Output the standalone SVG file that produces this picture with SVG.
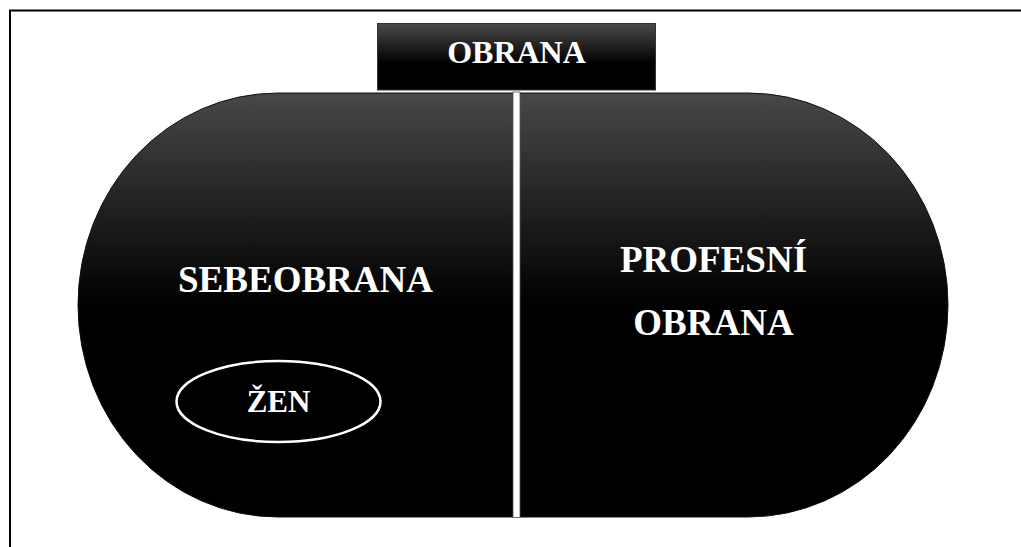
<svg xmlns="http://www.w3.org/2000/svg" width="1021" height="547" viewBox="0 0 1021 547">
<defs>
<linearGradient id="gBig" x1="0" y1="0" x2="0" y2="1">
<stop offset="0" stop-color="#484848"/>
<stop offset="0.5" stop-color="#000"/>
<stop offset="1" stop-color="#000"/>
</linearGradient>
<linearGradient id="gBox" x1="0" y1="0" x2="0" y2="1">
<stop offset="0" stop-color="#4a4a4a"/>
<stop offset="0.6" stop-color="#000"/>
<stop offset="1" stop-color="#000"/>
</linearGradient>
</defs>
<style>
.t{font-family:"Liberation Serif","Times New Roman",serif;font-weight:bold;fill:#fff;text-anchor:middle}
</style>
<rect width="1021" height="547" fill="#fff"/>
<path d="M10,560 V10.5 H1030" fill="none" stroke="#000" stroke-width="2"/>
<g id="node-main">
<path d="M278,93 H748 A200,212 0 0 1 748,517 H278 A200,212 0 0 1 278,93 Z" fill="url(#gBig)" stroke="#111" stroke-width="1"/>
<text class="t" x="305.5" y="292" font-size="37">SEBEOBRANA</text>
<text class="t" x="713.5" y="272" font-size="37">PROFESNÍ</text>
<text class="t" x="713.5" y="335" font-size="37">OBRANA</text>
</g>
<g id="connectors">
<rect x="513" y="92" width="7" height="425.5" fill="#fff" stroke="#555" stroke-width="0.8"/>
</g>
<g id="node-obrana">
<rect x="377.5" y="23.5" width="278" height="66.5" fill="url(#gBox)" stroke="#333" stroke-width="1"/>
<text class="t" x="516.5" y="63" font-size="32">OBRANA</text>
</g>
<g id="node-zen">
<ellipse cx="278.5" cy="401.5" rx="102" ry="40.5" fill="none" stroke="#fff" stroke-width="2.5"/>
<text class="t" x="278.5" y="412" font-size="31">ŽEN</text>
</g>
</svg>
